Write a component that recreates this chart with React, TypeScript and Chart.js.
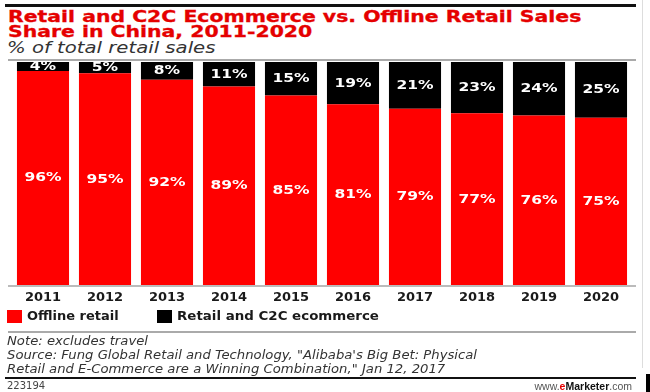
import React, { useEffect, useRef } from "react";
import { Chart, registerables } from "chart.js";

Chart.register(...registerables);

const years = ["2011", "2012", "2013", "2014", "2015", "2016", "2017", "2018", "2019", "2020"];
const offlineRetail = [96, 95, 92, 89, 85, 81, 79, 77, 76, 75];
const ecommerce = [4, 5, 8, 11, 15, 19, 21, 23, 24, 25];
const seriesNames = ["Offline retail", "Retail and C2C ecommerce"];
const seriesColors = ["#ff0000", "#000000"];

const FONT = "'DejaVu Sans', Verdana, sans-serif";

const labelPlugin = {
  id: "segLabels",
  afterDatasetsDraw(chart: any) {
    const ctx = chart.ctx;
    ctx.save();
    ctx.fillStyle = "#ffffff";
    ctx.font = `bold 11.5px ${FONT}`;
    ctx.textAlign = "center";
    ctx.textBaseline = "middle";
    chart.data.datasets.forEach((ds: any, di: number) => {
      const meta = chart.getDatasetMeta(di);
      meta.data.forEach((el: any, i: number) => {
        const { x, y, base } = el.getProps(["x", "y", "base"], true);
        const cy = (y + base) / 2;
        ctx.save();
        ctx.translate(x, cy + 0.5);
        ctx.scale(1.35, 1);
        ctx.fillText(ds.data[i] + "%", 0, 0);
        ctx.restore();
      });
    });
    ctx.restore();
  },
};

function ChartCanvas() {
  const ref = useRef<HTMLCanvasElement>(null);
  useEffect(() => {
    if (!ref.current) return;
    const chart = new Chart(ref.current, {
      type: "bar",
      data: {
        labels: years,
        datasets: [
          { label: seriesNames[0], data: offlineRetail, backgroundColor: seriesColors[0], borderWidth: 0, categoryPercentage: 1, barPercentage: 0.84 },
          { label: seriesNames[1], data: ecommerce, backgroundColor: seriesColors[1], borderWidth: 0, categoryPercentage: 1, barPercentage: 0.84 },
        ],
      },
      options: {
        animation: false,
        responsive: false,
        maintainAspectRatio: false,
        layout: { padding: { left: 12, right: 18, top: 62, bottom: 77 } },
        plugins: { legend: { display: false }, tooltip: { enabled: false } },
        scales: {
          x: {
            stacked: true,
            grid: { display: false, drawTicks: false },
            border: { display: false },
            ticks: { color: "#1a1a1a", font: { family: FONT, weight: "bold", size: 13 }, padding: 5, maxRotation: 0 },
            afterFit: (s: any) => { s.height = 30; },
          } as any,
          y: {
            stacked: true,
            display: false,
            min: 0,
            max: 100,
          },
        },
      },
      plugins: [labelPlugin],
    });
    return () => chart.destroy();
  }, []);
  return <canvas ref={ref} width={650} height={392} style={{ position: "absolute", left: 0, top: 0, width: 650, height: 392 }} />;
}

export default function App() {
  const abs = (s: React.CSSProperties): React.CSSProperties => ({ position: "absolute", ...s });
  const textBase: React.CSSProperties = { fontFamily: FONT, whiteSpace: "nowrap", transformOrigin: "left top" };
  return (
    <div style={{ position: "fixed", left: 0, top: 0, width: 650, height: 392, background: "#fff", overflow: "hidden" }}>
      <div style={abs({ left: 5, top: 4, width: 631, height: 3, background: "#111" })} />
      <div style={abs({ ...textBase, left: 8, top: 9.5, color: "#e50000", fontWeight: "bold", fontSize: 15, lineHeight: "15px", transform: "scaleX(1.36)", WebkitTextStroke: "0.3px #e50000" } as any)}>
        Retail and C2C Ecommerce vs. Offline Retail Sales<br />Share in China, 2011-2020
      </div>
      <div style={abs({ ...textBase, left: 7, top: 40, color: "#333", fontStyle: "italic", fontSize: 15, lineHeight: "16px", transform: "scaleX(1.31)" })}>
        % of total retail sales
      </div>
      <div style={abs({ left: 8, top: 59, width: 628, height: 2, background: "#aaa" })} />
      <div style={abs({ left: 8, top: 285, width: 628, height: 1.5, background: "#bbb" })} />
      <ChartCanvas />
      <div style={abs({ left: 7, top: 310, width: 15, height: 13, background: seriesColors[0] })} />
      <div style={abs({ ...textBase, left: 27, top: 308, color: "#1a1a1a", fontWeight: "bold", fontSize: 13, lineHeight: "16px" })}>{seriesNames[0]}</div>
      <div style={abs({ left: 157, top: 310, width: 15, height: 13, background: seriesColors[1] })} />
      <div style={abs({ ...textBase, left: 177, top: 308, color: "#1a1a1a", fontWeight: "bold", fontSize: 13, lineHeight: "16px", transform: "scaleX(1.03)" })}>{seriesNames[1]}</div>
      <div style={abs({ left: 8, top: 331, width: 628, height: 2, background: "#aaa" })} />
      <div style={abs({ ...textBase, left: 7, top: 334, color: "#333", fontStyle: "italic", fontSize: 12, lineHeight: "14px", transform: "scaleX(1.1)" })}>
        Note: excludes travel<br />
        Source: Fung Global Retail and Technology, "Alibaba's Big Bet: Physical<br />
        Retail and E-Commerce are a Winning Combination," Jan 12, 2017
      </div>
      <div style={abs({ left: 5, top: 377, width: 631, height: 2, background: "#111" })} />
      <div style={abs({ ...textBase, left: 7, top: 380, color: "#444", fontSize: 10, lineHeight: "12px" })}>223194</div>
      <div style={abs({ ...textBase, right: 18, top: 380, color: "#555", fontSize: 10.5, lineHeight: "12px", fontFamily: "'Liberation Sans', Arial, sans-serif" })}>
        www.<span style={{ color: "#e50000", fontWeight: "bold" }}>e</span><span style={{ color: "#111", fontWeight: "bold" }}>Marketer</span>.com
      </div>
      <div style={abs({ left: 642, top: 0, width: 1, height: 368, background: "#ddd" })} />
      <div style={abs({ left: 646, top: 374, width: 4, height: 18, background: "#000" })} />
    </div>
  );
}
